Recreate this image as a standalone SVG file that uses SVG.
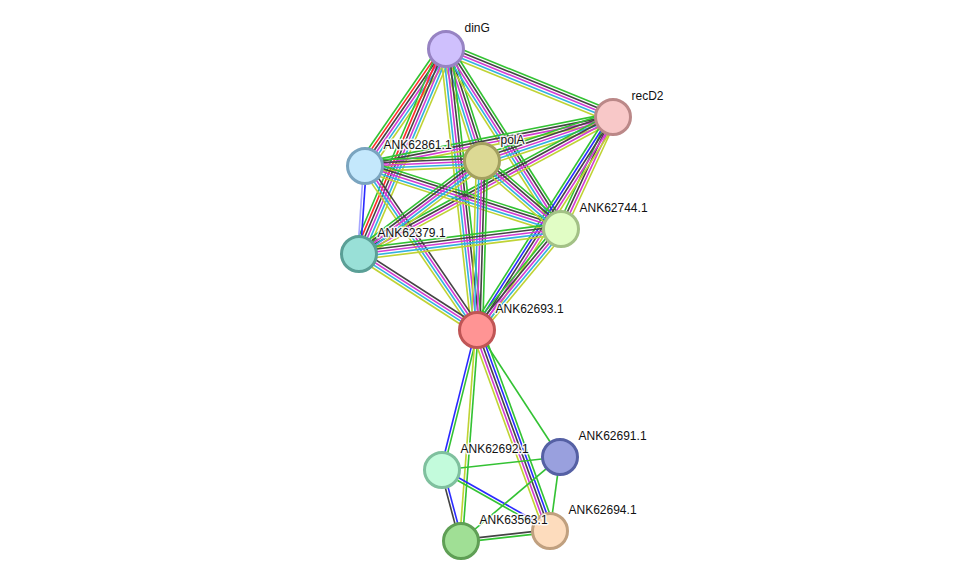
<svg xmlns="http://www.w3.org/2000/svg" width="976" height="587" viewBox="0 0 976 587">
<style>
line{stroke-width:1.45;fill:none}
.g{stroke:#33c233}.r{stroke:#ff2a2a}.b{stroke:#2a2aff}.k{stroke:#444444}.m{stroke:#d23bd2}.c{stroke:#33b2e0}.y{stroke:#bfd334}.h{stroke:#a6a6ff}
circle{stroke-width:3}
text{font-family:"Liberation Sans",Arial,sans-serif;font-size:12px;fill:#111111;stroke:#ffffff;stroke-width:3;stroke-opacity:0.85;paint-order:stroke;stroke-linejoin:round}
</style>
<rect width="976" height="587" fill="#ffffff"/>
<g id="edges">
<g id="e-dinG-recD2" transform="translate(446 49) rotate(22.15) scale(1 1.12)"><line x2="180.3" y1="-5" y2="-5" class="g"/><line x2="180.3" y1="-2.5" y2="-2.5" class="k"/><line x2="180.3" y1="0" y2="0" class="m"/><line x2="180.3" y1="2.5" y2="2.5" class="c"/><line x2="180.3" y1="5" y2="5" class="y"/></g>
<g id="e-ANK62861.1-dinG" transform="translate(365 166) rotate(-55.30) scale(1 1.12)"><line x2="142.3" y1="-6.25" y2="-6.25" class="g"/><line x2="142.3" y1="-3.75" y2="-3.75" class="r"/><line x2="142.3" y1="-1.25" y2="-1.25" class="k"/><line x2="142.3" y1="1.25" y2="1.25" class="m"/><line x2="142.3" y1="3.75" y2="3.75" class="c"/><line x2="142.3" y1="6.25" y2="6.25" class="y"/></g>
<g id="e-dinG-polA" transform="translate(446 49) rotate(72.18) scale(1 1.12)"><line x2="117.6" y1="-5" y2="-5" class="g"/><line x2="117.6" y1="-2.5" y2="-2.5" class="k"/><line x2="117.6" y1="0" y2="0" class="m"/><line x2="117.6" y1="2.5" y2="2.5" class="c"/><line x2="117.6" y1="5" y2="5" class="y"/></g>
<g id="e-dinG-ANK62744.1" transform="translate(446 49) rotate(57.42) scale(1 1.12)"><line x2="213.6" y1="-5" y2="-5" class="g"/><line x2="213.6" y1="-2.5" y2="-2.5" class="k"/><line x2="213.6" y1="0" y2="0" class="m"/><line x2="213.6" y1="2.5" y2="2.5" class="c"/><line x2="213.6" y1="5" y2="5" class="y"/></g>
<g id="e-ANK62379.1-dinG" transform="translate(359 254) rotate(-67.00) scale(1 1.12)"><line x2="222.7" y1="-6.25" y2="-6.25" class="g"/><line x2="222.7" y1="-3.75" y2="-3.75" class="r"/><line x2="222.7" y1="-1.25" y2="-1.25" class="k"/><line x2="222.7" y1="1.25" y2="1.25" class="m"/><line x2="222.7" y1="3.75" y2="3.75" class="c"/><line x2="222.7" y1="6.25" y2="6.25" class="y"/></g>
<g id="e-dinG-ANK62693.1" transform="translate(446 49) rotate(83.70) scale(1 1.12)"><line x2="282.7" y1="-5" y2="-5" class="g"/><line x2="282.7" y1="-2.5" y2="-2.5" class="k"/><line x2="282.7" y1="0" y2="0" class="m"/><line x2="282.7" y1="2.5" y2="2.5" class="c"/><line x2="282.7" y1="5" y2="5" class="y"/></g>
<g id="e-ANK62861.1-recD2" transform="translate(365 166) rotate(-11.18) scale(1 1.12)"><line x2="252.8" y1="-3.75" y2="-3.75" class="g"/><line x2="252.8" y1="-1.25" y2="-1.25" class="k"/><line x2="252.8" y1="1.25" y2="1.25" class="m"/><line x2="252.8" y1="3.75" y2="3.75" class="y"/></g>
<g id="e-polA-recD2" transform="translate(482 161) rotate(-18.57) scale(1 1.12)"><line x2="138.2" y1="-5" y2="-5" class="g"/><line x2="138.2" y1="-2.5" y2="-2.5" class="k"/><line x2="138.2" y1="0" y2="0" class="m"/><line x2="138.2" y1="2.5" y2="2.5" class="c"/><line x2="138.2" y1="5" y2="5" class="y"/></g>
<g id="e-ANK62744.1-recD2" transform="translate(561 229) rotate(-65.10) scale(1 1.12)"><line x2="123.5" y1="-3.75" y2="-3.75" class="g"/><line x2="123.5" y1="-1.25" y2="-1.25" class="k"/><line x2="123.5" y1="1.25" y2="1.25" class="m"/><line x2="123.5" y1="3.75" y2="3.75" class="y"/></g>
<g id="e-ANK62379.1-recD2" transform="translate(359 254) rotate(-28.34) scale(1 1.12)"><line x2="288.6" y1="-3.75" y2="-3.75" class="g"/><line x2="288.6" y1="-1.25" y2="-1.25" class="k"/><line x2="288.6" y1="1.25" y2="1.25" class="m"/><line x2="288.6" y1="3.75" y2="3.75" class="y"/></g>
<g id="e-ANK62693.1-recD2" transform="translate(477 330) rotate(-57.45) scale(1 1.12)"><line x2="252.7" y1="-5" y2="-5" class="g"/><line x2="252.7" y1="-2.5" y2="-2.5" class="b"/><line x2="252.7" y1="0" y2="0" class="k"/><line x2="252.7" y1="2.5" y2="2.5" class="m"/><line x2="252.7" y1="5" y2="5" class="y"/></g>
<g id="e-ANK62861.1-polA" transform="translate(365 166) rotate(-2.45) scale(1 1.12)"><line x2="117.1" y1="-5" y2="-5" class="g"/><line x2="117.1" y1="-2.5" y2="-2.5" class="k"/><line x2="117.1" y1="0" y2="0" class="m"/><line x2="117.1" y1="2.5" y2="2.5" class="c"/><line x2="117.1" y1="5" y2="5" class="y"/></g>
<g id="e-ANK62861.1-ANK62744.1" transform="translate(365 166) rotate(17.82) scale(1 1.12)"><line x2="205.9" y1="-5" y2="-5" class="g"/><line x2="205.9" y1="-2.5" y2="-2.5" class="k"/><line x2="205.9" y1="0" y2="0" class="m"/><line x2="205.9" y1="2.5" y2="2.5" class="c"/><line x2="205.9" y1="5" y2="5" class="y"/></g>
<g id="e-ANK62861.1-ANK62379.1" transform="translate(365 166) rotate(93.90) scale(1 1.12)"><line x2="88.2" y1="-1.25" y2="-1.25" class="b"/><line x2="88.2" y1="1.25" y2="1.25" class="h"/></g>
<g id="e-ANK62861.1-ANK62693.1" transform="translate(365 166) rotate(55.67) scale(1 1.12)"><line x2="198.6" y1="-3.75" y2="-3.75" class="k"/><line x2="198.6" y1="-1.25" y2="-1.25" class="m"/><line x2="198.6" y1="1.25" y2="1.25" class="c"/><line x2="198.6" y1="3.75" y2="3.75" class="y"/></g>
<g id="e-polA-ANK62744.1" transform="translate(482 161) rotate(40.72) scale(1 1.12)"><line x2="104.2" y1="-5" y2="-5" class="g"/><line x2="104.2" y1="-2.5" y2="-2.5" class="k"/><line x2="104.2" y1="0" y2="0" class="m"/><line x2="104.2" y1="2.5" y2="2.5" class="c"/><line x2="104.2" y1="5" y2="5" class="y"/></g>
<g id="e-ANK62379.1-polA" transform="translate(359 254) rotate(-37.09) scale(1 1.12)"><line x2="154.2" y1="-5" y2="-5" class="g"/><line x2="154.2" y1="-2.5" y2="-2.5" class="k"/><line x2="154.2" y1="0" y2="0" class="m"/><line x2="154.2" y1="2.5" y2="2.5" class="c"/><line x2="154.2" y1="5" y2="5" class="y"/></g>
<g id="e-polA-ANK62693.1" transform="translate(482 161) rotate(91.69) scale(1 1.12)"><line x2="169.1" y1="-5" y2="-5" class="g"/><line x2="169.1" y1="-2.5" y2="-2.5" class="k"/><line x2="169.1" y1="0" y2="0" class="m"/><line x2="169.1" y1="2.5" y2="2.5" class="c"/><line x2="169.1" y1="5" y2="5" class="y"/></g>
<g id="e-ANK62379.1-ANK62744.1" transform="translate(359 254) rotate(-7.06) scale(1 1.12)"><line x2="203.5" y1="-5" y2="-5" class="g"/><line x2="203.5" y1="-2.5" y2="-2.5" class="k"/><line x2="203.5" y1="0" y2="0" class="m"/><line x2="203.5" y1="2.5" y2="2.5" class="c"/><line x2="203.5" y1="5" y2="5" class="y"/></g>
<g id="e-ANK62693.1-ANK62744.1" transform="translate(477 330) rotate(-50.26) scale(1 1.12)"><line x2="131.4" y1="-5" y2="-5" class="g"/><line x2="131.4" y1="-2.5" y2="-2.5" class="k"/><line x2="131.4" y1="0" y2="0" class="m"/><line x2="131.4" y1="2.5" y2="2.5" class="c"/><line x2="131.4" y1="5" y2="5" class="y"/></g>
<g id="e-ANK62379.1-ANK62693.1" transform="translate(359 254) rotate(32.78) scale(1 1.12)"><line x2="140.4" y1="-3.75" y2="-3.75" class="k"/><line x2="140.4" y1="-1.25" y2="-1.25" class="m"/><line x2="140.4" y1="1.25" y2="1.25" class="c"/><line x2="140.4" y1="3.75" y2="3.75" class="y"/></g>
<g id="e-ANK62693.1-ANK62692.1" transform="translate(477 330) rotate(104.04) scale(1 1.12)"><line x2="144.3" y1="-1.25" y2="-1.25" class="g"/><line x2="144.3" y1="1.25" y2="1.25" class="b"/></g>
<g id="e-ANK62693.1-ANK63563.1" transform="translate(477 330) rotate(94.34) scale(1 1.12)"><line x2="211.6" y1="-1.25" y2="-1.25" class="g"/><line x2="211.6" y1="1.25" y2="1.25" class="y"/></g>
<g id="e-ANK62693.1-ANK62694.1" transform="translate(477 330) rotate(70.04) scale(1 1.12)"><line x2="213.8" y1="-5" y2="-5" class="g"/><line x2="213.8" y1="-2.5" y2="-2.5" class="b"/><line x2="213.8" y1="0" y2="0" class="k"/><line x2="213.8" y1="2.5" y2="2.5" class="m"/><line x2="213.8" y1="5" y2="5" class="y"/></g>
<g id="e-ANK62693.1-ANK62691.1" transform="translate(477 330) rotate(56.83) scale(1 1.12)"><line x2="151.7" class="g"/></g>
<g id="e-ANK62692.1-ANK62691.1" transform="translate(442 470) rotate(-6.29) scale(1 1.12)"><line x2="118.7" class="g"/></g>
<g id="e-ANK62692.1-ANK63563.1" transform="translate(442 470) rotate(75.02) scale(1 1.12)"><line x2="73.5" y1="-1.25" y2="-1.25" class="b"/><line x2="73.5" y1="1.25" y2="1.25" class="k"/></g>
<g id="e-ANK62692.1-ANK62694.1" transform="translate(442 470) rotate(29.46) scale(1 1.12)"><line x2="124" y1="-1.25" y2="-1.25" class="b"/><line x2="124" y1="1.25" y2="1.25" class="g"/></g>
<g id="e-ANK63563.1-ANK62691.1" transform="translate(461 541) rotate(-40.31) scale(1 1.12)"><line x2="129.8" class="g"/></g>
<g id="e-ANK62694.1-ANK62691.1" transform="translate(550 531) rotate(-82.30) scale(1 1.12)"><line x2="74.7" class="g"/></g>
<g id="e-ANK63563.1-ANK62694.1" transform="translate(461 541) rotate(-6.41) scale(1 1.12)"><line x2="89.6" y1="-1.25" y2="-1.25" class="k"/><line x2="89.6" y1="1.25" y2="1.25" class="g"/></g>
</g>
<g id="n-dinG"><circle cx="446" cy="49" r="17.5" fill="#cfc0fd" stroke="#9783c3"/><text x="464.5" y="32">dinG</text></g>
<g id="n-recD2"><circle cx="613" cy="117" r="17.5" fill="#f8c8c8" stroke="#bb8888"/><text x="631.5" y="100">recD2</text></g>
<g id="n-ANK62861.1"><circle cx="365" cy="166" r="17.5" fill="#c4e8fc" stroke="#7aa4bf"/><text x="383.5" y="149">ANK62861.1</text></g>
<g id="n-polA"><circle cx="482" cy="161" r="17.5" fill="#dcd994" stroke="#a3a05f"/><text x="500.5" y="144">polA</text></g>
<g id="n-ANK62744.1"><circle cx="561" cy="229" r="17.5" fill="#e1fdc5" stroke="#a3c186"/><text x="579.5" y="212">ANK62744.1</text></g>
<g id="n-ANK62379.1"><circle cx="359" cy="254" r="17.5" fill="#99e0d7" stroke="#5a9f96"/><text x="377.5" y="237">ANK62379.1</text></g>
<g id="n-ANK62693.1"><circle cx="477" cy="330" r="17.5" fill="#ff9494" stroke="#c05555"/><text x="495.5" y="313">ANK62693.1</text></g>
<g id="n-ANK62692.1"><circle cx="442" cy="470" r="17.5" fill="#c3fbdc" stroke="#7fc09e"/><text x="460.5" y="453">ANK62692.1</text></g>
<g id="n-ANK62691.1"><circle cx="560" cy="457" r="17.5" fill="#99a0de" stroke="#5560a4"/><text x="578.5" y="440">ANK62691.1</text></g>
<g id="n-ANK62694.1"><circle cx="550" cy="531" r="17.5" fill="#fddcbd" stroke="#c0a07f"/><text x="568.5" y="514">ANK62694.1</text></g>
<g id="n-ANK63563.1"><circle cx="461" cy="541" r="17.5" fill="#a0df95" stroke="#5f9f55"/><text x="479.5" y="524">ANK63563.1</text></g>
</svg>
